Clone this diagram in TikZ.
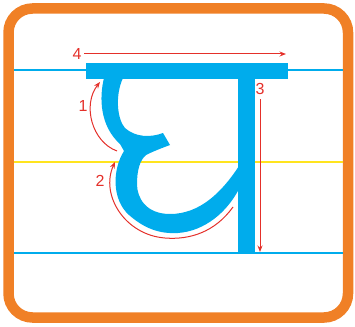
\documentclass[tikz,border=0pt]{standalone}
\usepackage{fontspec}
\setmainfont{Liberation Sans}
\usetikzlibrary{arrows.meta}
\definecolor{lettercyan}{RGB}{0,172,236}
\definecolor{frameorange}{RGB}{240,128,38}
\definecolor{guidered}{RGB}{228,48,42}
\definecolor{guideyellow}{RGB}{255,228,30}
\tikzset{
  rule/.style={line width=1.6pt},
  stroke/.style={guidered, line width=1pt, -{Stealth[length=6.5pt,width=5pt]}},
  num/.style={text=guidered, font=\fontsize{16}{18}\selectfont, inner sep=0pt},
  glyph/.style={fill=lettercyan, draw=none}
}
\begin{document}
\begin{tikzpicture}[x=1pt,y=-1pt]
\useasboundingbox (0,0) rectangle (355,326);
% frame
\draw[frameorange, line width=10.5pt, rounded corners=24pt] (8.5,8.5) rectangle (348,317.5);
% ruling lines
\draw[rule, lettercyan] (14,70) -- (343,70);
\draw[rule, guideyellow] (14,162) -- (343,162);
\draw[rule, lettercyan] (14,253) -- (343,253);
% letter
\fill[glyph] (86,63) rectangle (288,79);
\fill[glyph] (238,78) rectangle (255,253);
\fill[glyph] (104,78) .. controls (99,98) and (100,126) .. (120,144)
  -- (124,151)
  .. controls (112,170) and (112,200) .. (129,215)
  .. controls (145,229) and (160,234) .. (178,233)
  .. controls (205,231) and (227,212) .. (239,189)
  -- (239,166)
  .. controls (222,192) and (200,214) .. (170,214)
  .. controls (146,214) and (137,198) .. (137,184)
  .. controls (137,170) and (140,160) .. (146,155)
  .. controls (154,151) and (162,148) .. (170,145)
  -- (163,133)
  .. controls (150,138) and (135,137) .. (125,128)
  .. controls (117,119) and (115,95) .. (123,78) -- cycle;
% stroke order guides
\coordinate (s4a) at (84,54);
\coordinate (s4b) at (286,54);
\coordinate (s3a) at (260,99);
\coordinate (s3b) at (260,252);
\coordinate (s1a) at (117,151);
\coordinate (s1b) at (100,82);
\coordinate (s2a) at (233,207);
\coordinate (s2m) at (165,238);
\coordinate (s2b) at (115,162);
\draw[stroke] (s4a) -- (s4b);
\draw[stroke] (s3a) -- (s3b);
\draw[stroke] (s1a) .. controls (92,142) and (82,105) .. (s1b);
\draw[stroke] (s2a) .. controls (215,232) and (190,240) .. (s2m)
  .. controls (125,235) and (100,195) .. (s2b);
\node[num] (n4) at (77,54) {4};
\node[num] (n3) at (260,89) {3};
\node[num] (n1) at (83,106) {1};
\node[num] (n2) at (100,181) {2};
\end{tikzpicture}
\end{document}
